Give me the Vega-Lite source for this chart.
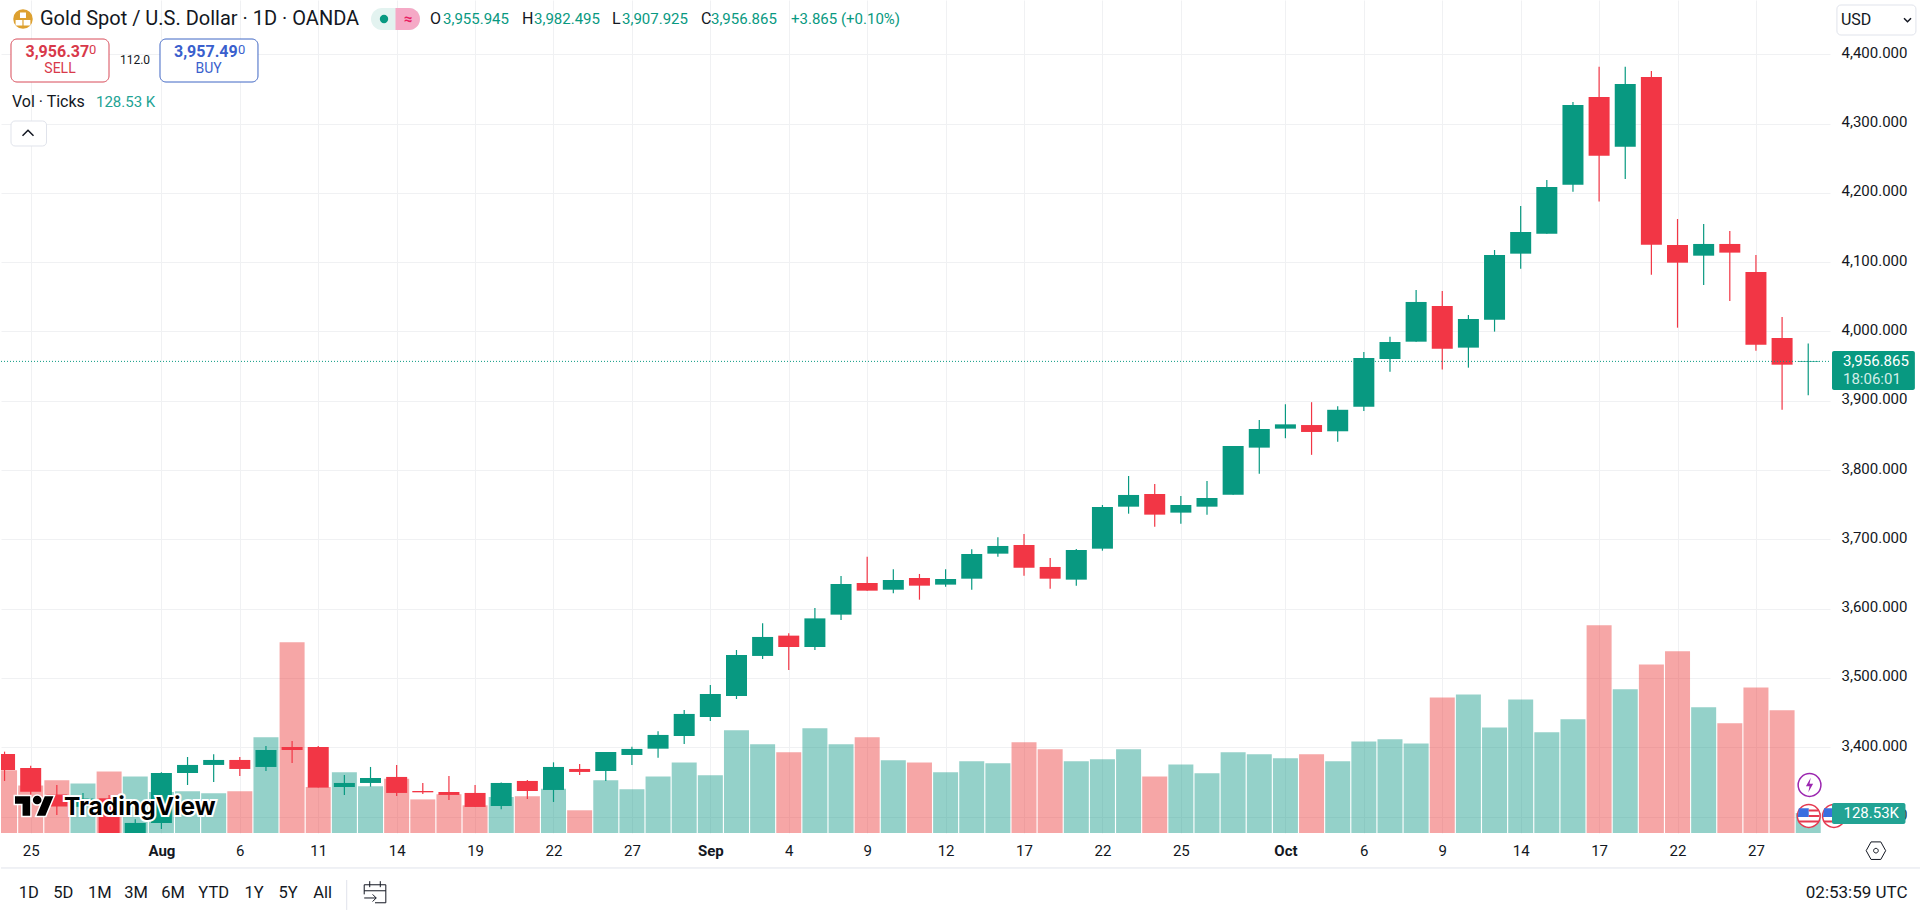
{
  "$schema": "https://vega.github.io/schema/vega-lite/v6.json",
  "width": 1829,
  "height": 833,
  "padding": 0,
  "background": "#ffffff",
  "config": {
    "view": { "stroke": null },
    "text": { "font": "Roboto", "baseline": "middle", "align": "left" }
  },
  "datasets": {
    "bars": [
      {"bar":-6,"date":"2025-07-24","open":3390.3,"high":3393.7,"low":3351.4,"close":3367.2,"vol":403},
      {"bar":-5,"date":"2025-07-25","open":3370.1,"high":3373.5,"low":3328.8,"close":3336.0,"vol":306},
      {"bar":-4,"date":"2025-07-28","open":3332.0,"high":3345.6,"low":3302.3,"close":3314.4,"vol":339},
      {"bar":-3,"date":"2025-07-29","open":3314.0,"high":3334.0,"low":3308.0,"close":3326.0,"vol":319},
      {"bar":-2,"date":"2025-07-30","open":3326.4,"high":3331.0,"low":3268.0,"close":3274.0,"vol":396},
      {"bar":-1,"date":"2025-07-31","open":3274.0,"high":3296.0,"low":3268.0,"close":3290.8,"vol":364},
      {"bar":0,"date":"2025-08-01","open":3290.8,"high":3364.0,"low":3282.0,"close":3362.9,"vol":264},
      {"bar":1,"date":"2025-08-04","open":3362.9,"high":3386.0,"low":3345.6,"close":3374.5,"vol":268},
      {"bar":2,"date":"2025-08-05","open":3374.5,"high":3389.9,"low":3349.9,"close":3381.7,"vol":255},
      {"bar":3,"date":"2025-08-06","open":3381.7,"high":3386.0,"low":3358.6,"close":3368.7,"vol":268},
      {"bar":4,"date":"2025-08-07","open":3371.6,"high":3401.9,"low":3365.8,"close":3396.1,"vol":615},
      {"bar":5,"date":"2025-08-08","open":3400.4,"high":3409.1,"low":3377.4,"close":3396.1,"vol":1226},
      {"bar":6,"date":"2025-08-11","open":3400.4,"high":3401.9,"low":3341.8,"close":3341.8,"vol":296},
      {"bar":7,"date":"2025-08-12","open":3342.7,"high":3360.0,"low":3331.2,"close":3348.5,"vol":390},
      {"bar":8,"date":"2025-08-13","open":3348.5,"high":3371.6,"low":3343.2,"close":3355.7,"vol":300},
      {"bar":9,"date":"2025-08-14","open":3357.2,"high":3374.5,"low":3329.7,"close":3334.1,"vol":349},
      {"bar":10,"date":"2025-08-15","open":3336.9,"high":3348.5,"low":3332.6,"close":3335.0,"vol":216},
      {"bar":11,"date":"2025-08-18","open":3335.5,"high":3358.6,"low":3323.9,"close":3331.2,"vol":249},
      {"bar":12,"date":"2025-08-19","open":3334.1,"high":3345.6,"low":3313.9,"close":3313.9,"vol":178},
      {"bar":13,"date":"2025-08-20","open":3315.3,"high":3349.0,"low":3310.5,"close":3348.5,"vol":231},
      {"bar":14,"date":"2025-08-21","open":3351.4,"high":3352.8,"low":3325.4,"close":3336.9,"vol":236},
      {"bar":15,"date":"2025-08-22","open":3338.4,"high":3378.3,"low":3321.1,"close":3371.6,"vol":285},
      {"bar":16,"date":"2025-08-25","open":3368.7,"high":3375.9,"low":3360.0,"close":3364.4,"vol":146},
      {"bar":17,"date":"2025-08-26","open":3365.8,"high":3393.2,"low":3351.4,"close":3393.2,"vol":339},
      {"bar":18,"date":"2025-08-27","open":3388.9,"high":3400.9,"low":3374.5,"close":3397.6,"vol":281},
      {"bar":19,"date":"2025-08-28","open":3398.0,"high":3423.0,"low":3385.0,"close":3417.8,"vol":364},
      {"bar":20,"date":"2025-08-29","open":3416.3,"high":3453.8,"low":3404.8,"close":3448.1,"vol":454},
      {"bar":21,"date":"2025-09-01","open":3443.7,"high":3489.9,"low":3438.0,"close":3476.9,"vol":371},
      {"bar":22,"date":"2025-09-02","open":3474.0,"high":3540.4,"low":3469.7,"close":3533.2,"vol":660},
      {"bar":23,"date":"2025-09-03","open":3531.8,"high":3578.9,"low":3527.4,"close":3559.2,"vol":570},
      {"bar":24,"date":"2025-09-04","open":3561.1,"high":3564.5,"low":3511.6,"close":3544.7,"vol":519},
      {"bar":25,"date":"2025-09-05","open":3544.7,"high":3601.0,"low":3540.4,"close":3586.0,"vol":673},
      {"bar":26,"date":"2025-09-08","open":3591.4,"high":3647.2,"low":3583.7,"close":3635.6,"vol":570},
      {"bar":27,"date":"2025-09-09","open":3637.1,"high":3675.1,"low":3626.0,"close":3626.0,"vol":615},
      {"bar":28,"date":"2025-09-10","open":3627.4,"high":3656.8,"low":3622.2,"close":3641.4,"vol":467},
      {"bar":29,"date":"2025-09-11","open":3644.3,"high":3650.1,"low":3613.0,"close":3633.2,"vol":454},
      {"bar":30,"date":"2025-09-12","open":3634.7,"high":3656.8,"low":3631.8,"close":3642.8,"vol":390},
      {"bar":31,"date":"2025-09-15","open":3643.3,"high":3685.6,"low":3627.4,"close":3678.9,"vol":461},
      {"bar":32,"date":"2025-09-16","open":3679.4,"high":3703.0,"low":3675.0,"close":3690.5,"vol":448},
      {"bar":33,"date":"2025-09-17","open":3691.9,"high":3707.8,"low":3647.7,"close":3659.2,"vol":583},
      {"bar":34,"date":"2025-09-18","open":3660.2,"high":3673.1,"low":3628.9,"close":3643.3,"vol":538},
      {"bar":35,"date":"2025-09-19","open":3641.9,"high":3686.1,"low":3633.2,"close":3684.7,"vol":461},
      {"bar":36,"date":"2025-09-22","open":3686.6,"high":3749.6,"low":3683.7,"close":3746.7,"vol":474},
      {"bar":37,"date":"2025-09-23","open":3747.2,"high":3791.5,"low":3737.1,"close":3764.1,"vol":538},
      {"bar":38,"date":"2025-09-24","open":3765.5,"high":3779.9,"low":3718.4,"close":3735.7,"vol":364},
      {"bar":39,"date":"2025-09-25","open":3738.6,"high":3762.6,"low":3722.7,"close":3749.6,"vol":441},
      {"bar":40,"date":"2025-09-26","open":3747.2,"high":3784.3,"low":3735.7,"close":3759.7,"vol":384},
      {"bar":41,"date":"2025-09-29","open":3764.5,"high":3834.8,"low":3764.5,"close":3834.8,"vol":519},
      {"bar":42,"date":"2025-09-30","open":3832.4,"high":3872.3,"low":3794.8,"close":3859.3,"vol":506},
      {"bar":43,"date":"2025-10-01","open":3859.8,"high":3895.0,"low":3846.0,"close":3866.0,"vol":480},
      {"bar":44,"date":"2025-10-02","open":3865.0,"high":3898.0,"low":3822.0,"close":3855.0,"vol":506},
      {"bar":45,"date":"2025-10-03","open":3856.0,"high":3892.0,"low":3841.0,"close":3887.0,"vol":461},
      {"bar":46,"date":"2025-10-06","open":3891.5,"high":3970.4,"low":3885.3,"close":3961.7,"vol":589},
      {"bar":47,"date":"2025-10-07","open":3960.3,"high":3992.5,"low":3942.0,"close":3984.8,"vol":602},
      {"bar":48,"date":"2025-10-08","open":3985.3,"high":4059.9,"low":3985.3,"close":4042.6,"vol":576},
      {"bar":49,"date":"2025-10-09","open":4036.8,"high":4058.4,"low":3945.0,"close":3975.2,"vol":872},
      {"bar":50,"date":"2025-10-10","open":3976.7,"high":4023.8,"low":3947.8,"close":4018.0,"vol":891},
      {"bar":51,"date":"2025-10-13","open":4017.1,"high":4117.6,"low":3999.8,"close":4110.4,"vol":679},
      {"bar":52,"date":"2025-10-14","open":4112.3,"high":4181.1,"low":4090.7,"close":4143.6,"vol":859},
      {"bar":53,"date":"2025-10-15","open":4141.2,"high":4218.6,"low":4141.2,"close":4208.5,"vol":647},
      {"bar":54,"date":"2025-10-16","open":4211.9,"high":4331.2,"low":4201.8,"close":4326.8,"vol":731},
      {"bar":55,"date":"2025-10-17","open":4338.4,"high":4382.2,"low":4187.4,"close":4253.7,"vol":1335},
      {"bar":56,"date":"2025-10-20","open":4266.7,"high":4382.2,"low":4220.0,"close":4357.1,"vol":924},
      {"bar":57,"date":"2025-10-21","open":4367.2,"high":4375.9,"low":4082.0,"close":4125.3,"vol":1084},
      {"bar":58,"date":"2025-10-22","open":4124.8,"high":4162.3,"low":4005.5,"close":4099.3,"vol":1168},
      {"bar":59,"date":"2025-10-23","open":4109.4,"high":4155.1,"low":4067.1,"close":4126.3,"vol":808},
      {"bar":60,"date":"2025-10-24","open":4126.3,"high":4145.0,"low":4044.0,"close":4113.8,"vol":705},
      {"bar":61,"date":"2025-10-27","open":4085.8,"high":4110.4,"low":3972.3,"close":3981.0,"vol":936},
      {"bar":62,"date":"2025-10-28","open":3990.6,"high":4020.9,"low":3887.2,"close":3952.1,"vol":789},
      {"bar":63,"date":"2025-10-29","open":3955.945,"high":3982.495,"low":3907.925,"close":3956.865,"vol":128.53}
    ]
  },
  "encoding": {
    "x": {
      "field": "bar",
      "type": "quantitative",
      "scale": { "domain": [-6.136, 63.833], "nice": false, "zero": false, "padding": 0 },
      "axis": {
        "title": null,
        "orient": "bottom",
        "values": [-5, 0, 3, 6, 9, 12, 15, 18, 21, 24, 27, 30, 33, 36, 39, 43, 46, 49, 52, 55, 58, 61],
        "labelExpr": "{'-5':'25','0':'Aug','3':'6','6':'11','9':'14','12':'19','15':'22','18':'27','21':'Sep','24':'4','27':'9','30':'12','33':'17','36':'22','39':'25','43':'Oct','46':'6','49':'9','52':'14','55':'17','58':'22','61':'27'}[datum.value]",
        "labelFontWeight": { "condition": { "test": "datum.value == 0 || datum.value == 21 || datum.value == 43", "value": "bold" }, "value": "normal" },
        "labelFont": "Roboto",
        "labelFontSize": 15,
        "labelColor": "#131722",
        "labelPadding": 10,
        "labelOverlap": false,
        "labelFlush": false,
        "labelBound": false,
        "ticks": false,
        "domain": false,
        "grid": true,
        "gridColor": "#f0f1f3",
        "gridWidth": 1
      }
    }
  },
  "resolve": { "scale": { "y": "independent" }, "axis": { "y": "independent" } },
  "layer": [
    {
      "data": { "name": "bars" },
      "mark": { "type": "bar", "width": 25, "opacity": 0.45, "clip": true, "orient": "vertical" },
      "encoding": {
        "y": { "field": "vol", "type": "quantitative", "stack": null, "scale": { "domain": [0, 5356], "nice": false, "padding": 0 }, "axis": null },
        "color": { "condition": { "test": "datum.close >= datum.open", "value": "#119987" }, "value": "#eb3939" }
      }
    },
    {
      "encoding": {
        "y": { "field": "price", "type": "quantitative", "title": null, "scale": { "domain": [3276.3, 4478.35], "nice": false, "zero": false, "padding": 0 } }
      },
      "layer": [
        {
          "data": { "name": "bars" },
          "mark": { "type": "rule", "strokeWidth": 1.2, "clip": true },
          "encoding": {
            "y": {
              "field": "low",
              "type": "quantitative",
              "scale": { "domain": [3276.3, 4478.35], "nice": false, "zero": false, "padding": 0 },
              "axis": {
                "title": null,
                "orient": "right",
                "values": [3300, 3400, 3500, 3600, 3700, 3800, 3900, 4000, 4100, 4200, 4300, 4400],
                "format": ",.3f",
                "labelFont": "Roboto",
                "labelFontSize": 15,
                "labelColor": "#131722",
                "labelPadding": 11,
                "labelOffset": -2,
                "labelBound": false,
                "labelFlush": false,
                "labelOverlap": false,
                "ticks": false,
                "domain": false,
                "grid": true,
                "gridColor": "#f0f1f3",
                "gridWidth": 1
              }
            },
            "y2": { "field": "high" },
            "color": { "condition": { "test": "datum.close >= datum.open", "value": "#089981" }, "value": "#f23645" }
          }
        },
        {
          "data": { "name": "bars" },
          "mark": { "type": "bar", "width": 21, "clip": true, "orient": "vertical" },
          "encoding": {
            "y": { "field": "open", "type": "quantitative", "title": null, "scale": { "domain": [3276.3, 4478.35], "nice": false, "zero": false, "padding": 0 } },
            "y2": { "field": "close" },
            "color": { "condition": { "test": "datum.close >= datum.open", "value": "#089981" }, "value": "#f23645" }
          }
        },
        {
          "data": { "values": [ { "bar": -6.136, "bar2": 63.833, "price": 3956.865 } ] },
          "mark": { "type": "rule", "stroke": "#089981", "strokeWidth": 1, "strokeDash": [1, 2] },
          "encoding": { "x2": { "field": "bar2" } }
        },
        {
          "data": { "values": [ { "bar": -6.136, "bar2": 67.31, "price": 3225.83 } ] },
          "mark": { "type": "rule", "stroke": "#e0e3eb", "strokeWidth": 1 },
          "encoding": { "x2": { "field": "bar2" } }
        },
        {
          "data": { "values": [ { "bar": 7.089, "price": 3208.5, "price2": 3165.2 } ] },
          "mark": { "type": "rule", "stroke": "#e0e3eb", "strokeWidth": 1 },
          "encoding": { "y2": { "field": "price2" } }
        },
        {
          "data": { "values": [
            { "bar": 8.018, "bar2": 9.892, "price": 4466.8, "price2": 4435.06 }
          ] },
          "mark": { "type": "rect", "fill": "#e3f3f0", "cornerRadius": 11 },
          "encoding": { "x2": { "field": "bar2" }, "y2": { "field": "price2" } }
        },
        {
          "data": { "values": [
            { "bar": 8.956, "bar2": 9.892, "price": 4466.8, "price2": 4435.06 }
          ] },
          "mark": { "type": "rect", "fill": "#f5a9c6", "cornerRadiusTopRight": 11, "cornerRadiusBottomRight": 11 },
          "encoding": { "x2": { "field": "bar2" }, "y2": { "field": "price2" } }
        },
        {
          "data": { "values": [
            { "bar": -5.754, "bar2": -2.004, "price": 4422.07, "price2": 4360.02 }
          ] },
          "mark": { "type": "rect", "fill": "#ffffff", "stroke": "#d84a58", "strokeWidth": 1, "cornerRadius": 6 },
          "encoding": { "x2": { "field": "bar2" }, "y2": { "field": "price2" } }
        },
        {
          "data": { "values": [
            { "bar": -0.054, "bar2": 3.695, "price": 4422.07, "price2": 4360.02 }
          ] },
          "mark": { "type": "rect", "fill": "#ffffff", "stroke": "#3f66c4", "strokeWidth": 1, "cornerRadius": 6 },
          "encoding": { "x2": { "field": "bar2" }, "y2": { "field": "price2" } }
        },
        {
          "data": { "values": [
            { "bar": -5.754, "bar2": -4.395, "price": 4303.75, "price2": 4267.67 },
            { "bar": 64.098, "bar2": 67.12, "price": 4471.14, "price2": 4427.84 }
          ] },
          "mark": { "type": "rect", "fill": "#ffffff", "stroke": "#e0e3eb", "strokeWidth": 1, "cornerRadius": 4 },
          "encoding": { "x2": { "field": "bar2" }, "y2": { "field": "price2" } }
        },
        {
          "data": { "values": [ { "bar": -5.295, "price": 4450.93 } ] },
          "mark": { "type": "circle", "size": 380, "fill": "#dda02f", "opacity": 1 }
        },
        {
          "data": { "values": [ { "bar": -5.295, "price": 4450.93 } ] },
          "mark": { "type": "point", "shape": "M-.15 -.32 H.15 V-.05 H-.15 Z M-.37 .05 H-.03 V.32 H-.37 Z M.03 .05 H.37 V.32 H.03 Z", "size": 1600, "filled": true, "fill": "#ffffff", "opacity": 1 }
        },
        {
          "data": { "values": [ { "bar": 8.516, "price": 4450.93 } ] },
          "mark": { "type": "circle", "size": 70, "fill": "#089981", "opacity": 1 }
        },
        {
          "data": { "values": [ { "bar": -5.103, "price": 4286.43 } ] },
          "mark": { "type": "point", "shape": "M-.5 .25 L0 -.25 L.5 .25", "size": 484, "filled": false, "stroke": "#131722", "strokeWidth": 1.5, "opacity": 1 }
        },
        {
          "data": { "values": [ { "bar": 66.798, "price": 4449.49 } ] },
          "mark": { "type": "point", "shape": "M-.5 -.25 L0 .25 L.5 -.25", "size": 196, "filled": false, "stroke": "#131722", "strokeWidth": 1.5, "opacity": 1 }
        },
        {
          "data": { "values": [ { "bar": 65.59, "price": 3250.8 } ] },
          "mark": { "type": "point", "shape": "M-.5 0 L-.25 -.45 H.25 L.5 0 L.25 .45 H-.25 Z M-.12 0 a.12 .12 0 1 0 .24 0 a.12 .12 0 1 0 -.24 0", "size": 1520, "filled": false, "stroke": "#131722", "strokeWidth": 1, "opacity": 1 }
        },
        {
          "data": { "values": [ { "bar": 8.172, "price": 3191.2 } ] },
          "mark": { "type": "point", "shape": "M-.45 .1 V-.3 H.45 V.45 H0 M-.45 -.05 H.45 M-.22 -.45 V-.2 M.22 -.45 V-.2 M-.45 .25 H.05 M-.1 .1 L.05 .25 L-.1 .4", "size": 2304, "filled": false, "stroke": "#131722", "strokeWidth": 1, "opacity": 1 }
        },
        {
          "data": { "values": [ { "bar": 63.05, "price": 3345.6 } ] },
          "mark": { "type": "circle", "size": 520, "fill": "#ffffff", "stroke": "#9c27b0", "strokeWidth": 1.5, "opacity": 1 }
        },
        {
          "data": { "values": [ { "bar": 63.05, "price": 3345.6 } ] },
          "mark": { "type": "point", "shape": "M.1 -.6 L-.3 .1 H0 L-.1 .6 L.3 -.1 H0 Z", "size": 576, "filled": true, "fill": "#9c27b0", "opacity": 1 }
        },
        {
          "data": { "values": [ { "bar": 63.985, "price": 3300.85 }, { "bar": 63.02, "price": 3300.85 } ] },
          "mark": { "type": "circle", "size": 520, "fill": "#ffffff", "stroke": "#e53950", "strokeWidth": 1.5, "opacity": 1 }
        },
        {
          "data": { "values": [ { "bar": 63.985, "price": 3300.85 }, { "bar": 63.02, "price": 3300.85 } ] },
          "mark": { "type": "point", "shape": "M-.45 -.35 H0 V.05 H-.5 Z", "size": 1936, "filled": true, "fill": "#3b6fe0", "opacity": 1 }
        },
        {
          "data": { "values": [ { "bar": 63.985, "price": 3300.85 }, { "bar": 63.02, "price": 3300.85 } ] },
          "mark": { "type": "point", "shape": "M0 -.3 H.42 V-.2 H0 Z M0 -.05 H.48 V.05 H0 Z M-.45 .2 H.45 V.3 H-.45 Z", "size": 1936, "filled": true, "fill": "#e53950", "opacity": 1 }
        },
        {
          "data": { "values": [ { "bar": 63.91, "bar2": 67.08, "price": 3971.86, "price2": 3915.58 } ] },
          "mark": { "type": "rect", "fill": "#089981", "cornerRadius": 2 },
          "encoding": { "x2": { "field": "bar2" }, "y2": { "field": "price2" } }
        },
        {
          "data": { "values": [ { "bar": 63.91, "bar2": 66.72, "price": 3319.6, "price2": 3289.3 } ] },
          "mark": { "type": "rect", "fill": "#22a394", "cornerRadius": 2 },
          "encoding": { "x2": { "field": "bar2" }, "y2": { "field": "price2" } }
        },
        {
          "data": { "values": [ { "bar": -4.855, "price": 3315.29 } ] },
          "mark": { "type": "point", "shape": "M-.111 .25 H-.306 V-.056 H-.5 V-.25 H-.111 Z M-.042 -.153 a.111 .111 0 1 0 .222 0 a.111 .111 0 1 0 -.222 0 Z M.278 .25 H.056 L.264 -.25 H.486 Z", "size": 6084, "filled": true, "fill": "#000000", "stroke": "#ffffff", "strokeWidth": 3, "opacity": 1 }
        },
        {
          "data": { "values": [ { "bar": -4.855, "price": 3315.29 } ] },
          "mark": { "type": "point", "shape": "M-.111 .25 H-.306 V-.056 H-.5 V-.25 H-.111 Z M-.042 -.153 a.111 .111 0 1 0 .222 0 a.111 .111 0 1 0 -.222 0 Z M.278 .25 H.056 L.264 -.25 H.486 Z", "size": 6084, "filled": true, "fill": "#000000", "opacity": 1 }
        },
        {
          "data": { "values": [ { "bar": -3.726, "price": 3312.4, "label": "TradingView" } ] },
          "mark": { "type": "text", "font": "Inter", "fontSize": 24.5, "fontWeight": "bold", "fill": "#ffffff", "stroke": "#ffffff", "strokeWidth": 4 },
          "encoding": { "text": { "field": "label" } }
        },
        {
          "data": { "values": [ { "bar": -3.726, "price": 3312.4, "label": "TradingView" } ] },
          "mark": { "type": "text", "font": "Inter", "fontSize": 24.5, "fontWeight": "bold", "fill": "#000000" },
          "encoding": { "text": { "field": "label" } }
        },
        {
          "data": { "values": [ { "bar": -4.644, "price": 4450.93, "label": "Gold Spot / U.S. Dollar · 1D · OANDA" } ] },
          "mark": { "type": "text", "fontSize": 20, "fill": "#131722" },
          "encoding": { "text": { "field": "label" } }
        },
        {
          "data": { "values": [
            { "bar": 10.275, "price": 4450.93, "label": "O" },
            { "bar": 13.796, "price": 4450.93, "label": "H" },
            { "bar": 17.239, "price": 4450.93, "label": "L" },
            { "bar": 20.644, "price": 4450.93, "label": "C" },
            { "bar": -5.715, "price": 4331.16, "label": "Vol · Ticks" },
            { "bar": 64.25, "price": 4449.49, "label": "USD" }
          ] },
          "mark": { "type": "text", "fontSize": 16, "fill": "#131722" },
          "encoding": { "text": { "field": "label" } }
        },
        {
          "data": { "values": [
            { "bar": 10.773, "price": 4450.93, "label": "3,955.945" },
            { "bar": 14.255, "price": 4450.93, "label": "3,982.495" },
            { "bar": 17.621, "price": 4450.93, "label": "3,907.925" },
            { "bar": 21.025, "price": 4450.93, "label": "3,956.865" },
            { "bar": 24.086, "price": 4450.93, "label": "+3.865 (+0.10%)" }
          ] },
          "mark": { "type": "text", "fontSize": 15, "fill": "#089981" },
          "encoding": { "text": { "field": "label" } }
        },
        {
          "data": { "values": [ { "bar": -2.502, "price": 4331.16, "label": "128.53 K" } ] },
          "mark": { "type": "text", "fontSize": 15, "fill": "#22a394" },
          "encoding": { "text": { "field": "label" } }
        },
        {
          "data": { "values": [ { "bar": 9.434, "price": 4450.93, "label": "≈" } ] },
          "mark": { "type": "text", "fontSize": 15, "fontWeight": "bold", "align": "center", "fill": "#e91e63" },
          "encoding": { "text": { "field": "label" } }
        },
        {
          "data": { "values": [ { "bar": -5.199, "price": 4403.31, "label": "3,956.37" } ] },
          "mark": { "type": "text", "fontSize": 16, "fontWeight": "bold", "fill": "#d8394a" },
          "encoding": { "text": { "field": "label" } }
        },
        {
          "data": { "values": [ { "bar": -2.77, "price": 4406.2, "label": "0" } ] },
          "mark": { "type": "text", "fontSize": 13, "fill": "#d8394a" },
          "encoding": { "text": { "field": "label" } }
        },
        {
          "data": { "values": [ { "bar": -3.879, "price": 4378.78, "label": "SELL" } ] },
          "mark": { "type": "text", "fontSize": 14, "align": "center", "fill": "#d8394a" },
          "encoding": { "text": { "field": "label" } }
        },
        {
          "data": { "values": [ { "bar": 0.482, "price": 4403.31, "label": "3,957.49" } ] },
          "mark": { "type": "text", "fontSize": 16, "fontWeight": "bold", "fill": "#3a5fcd" },
          "encoding": { "text": { "field": "label" } }
        },
        {
          "data": { "values": [ { "bar": 2.93, "price": 4406.2, "label": "0" } ] },
          "mark": { "type": "text", "fontSize": 13, "fill": "#3a5fcd" },
          "encoding": { "text": { "field": "label" } }
        },
        {
          "data": { "values": [ { "bar": 1.806, "price": 4378.78, "label": "BUY" } ] },
          "mark": { "type": "text", "fontSize": 14, "align": "center", "fill": "#3a5fcd" },
          "encoding": { "text": { "field": "label" } }
        },
        {
          "data": { "values": [ { "bar": -1.01, "price": 4391.77, "label": "112.0" } ] },
          "mark": { "type": "text", "fontSize": 12, "align": "center", "fill": "#131722" },
          "encoding": { "text": { "field": "label" } }
        },
        {
          "data": { "values": [
            { "bar": -5.073, "price": 3189.75, "label": "1D" },
            { "bar": -3.749, "price": 3189.75, "label": "5D" },
            { "bar": -2.357, "price": 3189.75, "label": "1M" },
            { "bar": -0.972, "price": 3189.75, "label": "3M" },
            { "bar": 0.444, "price": 3189.75, "label": "6M" },
            { "bar": 2.001, "price": 3189.75, "label": "YTD" },
            { "bar": 3.542, "price": 3189.75, "label": "1Y" },
            { "bar": 4.843, "price": 3189.75, "label": "5Y" },
            { "bar": 6.167, "price": 3189.75, "label": "All" }
          ] },
          "mark": { "type": "text", "fontSize": 16.5, "align": "center", "fill": "#131722" },
          "encoding": { "text": { "field": "label" } }
        },
        {
          "data": { "values": [ { "bar": 66.8, "price": 3189.75, "label": "02:53:59 UTC" } ] },
          "mark": { "type": "text", "fontSize": 17, "align": "right", "fill": "#131722" },
          "encoding": { "text": { "field": "label" } }
        },
        {
          "data": { "values": [ { "bar": 64.33, "price": 3957.43, "label": "3,956.865" } ] },
          "mark": { "type": "text", "fontSize": 15, "fill": "#ffffff" },
          "encoding": { "text": { "field": "label" } }
        },
        {
          "data": { "values": [ { "bar": 64.33, "price": 3931.45, "label": "18:06:01" } ] },
          "mark": { "type": "text", "fontSize": 15, "fill": "#d2eee8" },
          "encoding": { "text": { "field": "label" } }
        },
        {
          "data": { "values": [ { "bar": 64.35, "price": 3305.2, "label": "128.53K" } ] },
          "mark": { "type": "text", "fontSize": 15, "fill": "#ffffff" },
          "encoding": { "text": { "field": "label" } }
        }
      ]
    }
  ]
}
